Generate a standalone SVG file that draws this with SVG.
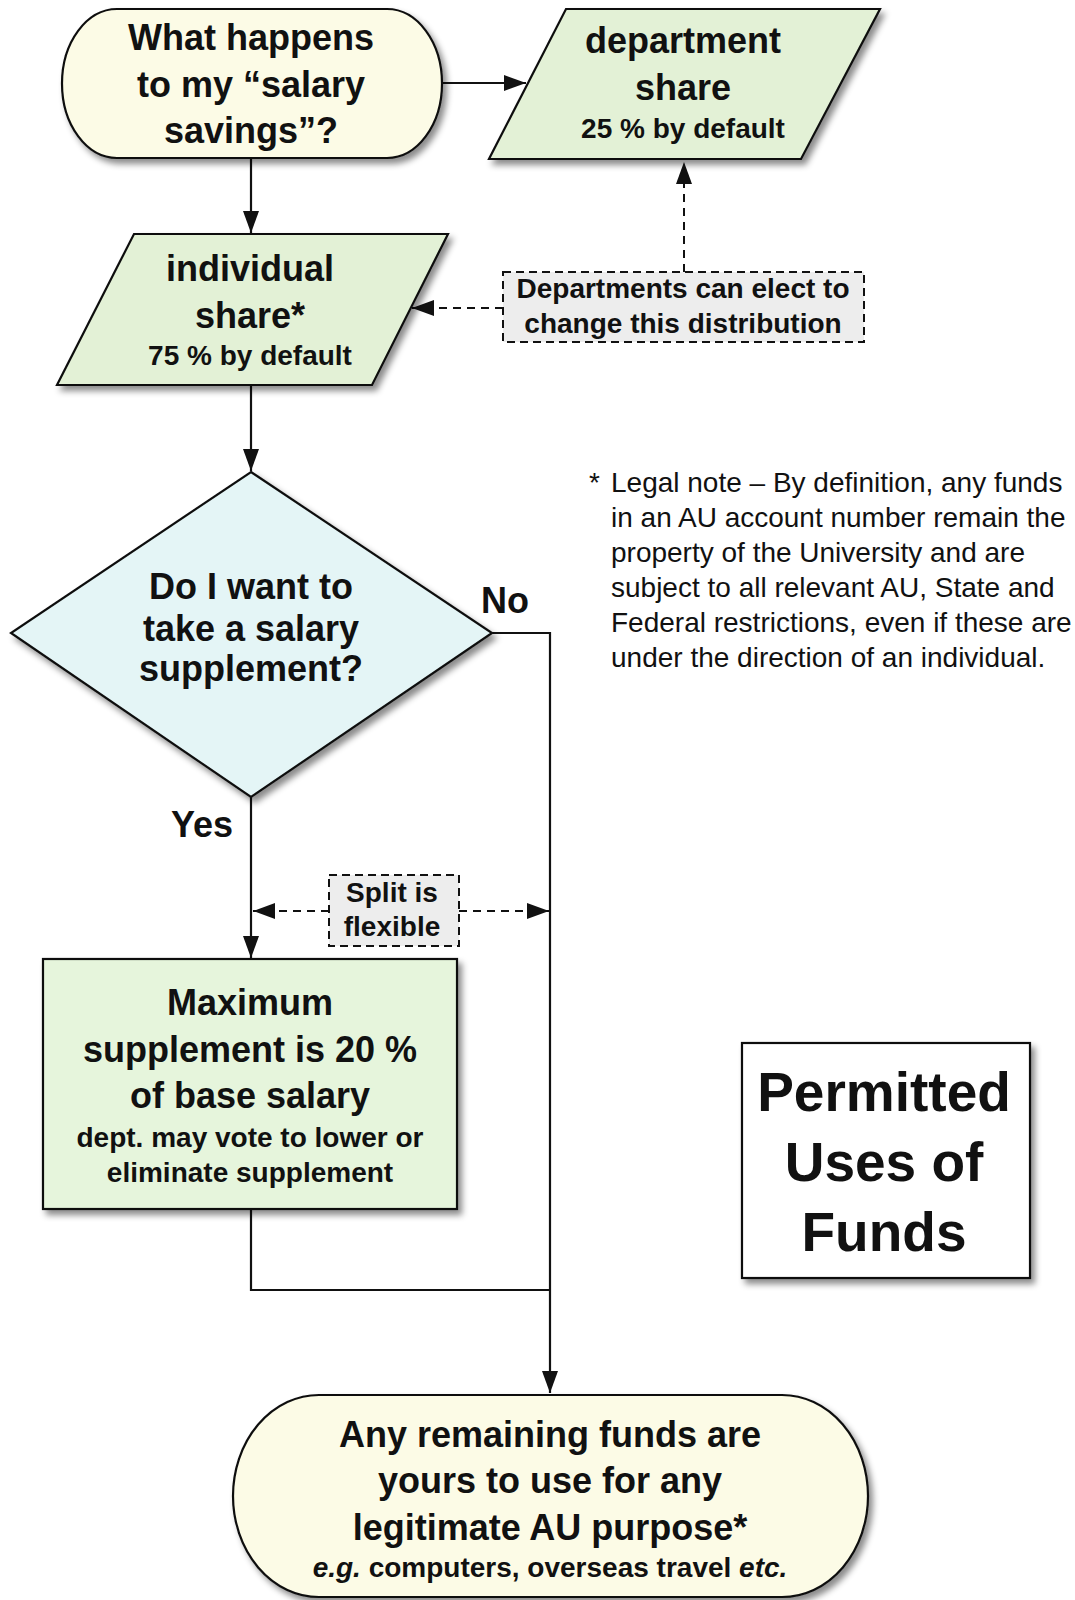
<svg xmlns="http://www.w3.org/2000/svg" width="1075" height="1600" viewBox="0 0 1075 1600">
<style>
  .t { font-family: "Liberation Sans", Arial, Helvetica, sans-serif; font-weight: bold; fill: #111; text-anchor: middle; }
  .big { font-size: 36px; }
  .sm { font-size: 28px; }
  .note { font-family: "Liberation Sans", Arial, Helvetica, sans-serif; font-size: 28px; fill: #111; }
  .shape { stroke: #111; stroke-width: 2.2; }
  .term { fill: #fcfbe6; }
  .para { fill: #e3f1d6; }
  .dec { fill: #e4f5f6; }
  .proc { fill: #e6f5dc; }
  .anno { fill: #ededed; stroke: #111; stroke-width: 2; stroke-dasharray: 8 5; }
  .conn { fill: none; stroke: #111; stroke-width: 2.2; }
  .dash { fill: none; stroke: #111; stroke-width: 2; stroke-dasharray: 8 6; }
</style>
<defs>
  <filter id="sh" x="-10%" y="-10%" width="125%" height="125%">
    <feDropShadow dx="4" dy="5" stdDeviation="3" flood-color="#000" flood-opacity="0.45"/>
  </filter>
  <marker id="ah" markerUnits="userSpaceOnUse" markerWidth="23" markerHeight="16" refX="22" refY="8" orient="auto">
    <path d="M0,0 L22,8 L0,16 z" fill="#111"/>
  </marker>
</defs>
<rect width="1075" height="1600" fill="#ffffff"/>

<g id="connectors">
  <line class="conn" x1="251" y1="159" x2="251" y2="233" marker-end="url(#ah)"/>
  <line class="conn" x1="443" y1="83" x2="526" y2="83" marker-end="url(#ah)"/>
  <line class="conn" x1="251" y1="386" x2="251" y2="471" marker-end="url(#ah)"/>
  <polyline class="conn" points="492,633 550,633 550,1393" marker-end="url(#ah)"/>
  <line class="conn" x1="251" y1="797" x2="251" y2="958" marker-end="url(#ah)"/>
  <polyline class="conn" points="251,1210 251,1290 550,1290"/>
  <line class="dash" x1="684" y1="272" x2="684" y2="162" marker-end="url(#ah)"/>
  <line class="dash" x1="503" y1="308" x2="412" y2="308" marker-end="url(#ah)"/>
  <line class="dash" x1="329" y1="911" x2="253" y2="911" marker-end="url(#ah)"/>
  <line class="dash" x1="459" y1="911" x2="549" y2="911" marker-end="url(#ah)"/>
  <text class="t big" x="505" y="613">No</text>
  <text class="t big" x="202" y="837">Yes</text>
</g>

<g id="start">
  <rect class="shape term" filter="url(#sh)" x="62" y="9" width="380" height="149" rx="55" ry="74.5"/>
  <text class="t big" x="251" y="50">What happens</text>
  <text class="t big" x="251" y="97">to my “salary</text>
  <text class="t big" x="251" y="143">savings”?</text>
</g>

<g id="department-share">
  <polygon class="shape para" filter="url(#sh)" points="566,9 880,9 801,159 489,159"/>
  <text class="t big" x="683" y="53">department</text>
  <text class="t big" x="683" y="100">share</text>
  <text class="t sm" x="683" y="138">25 % by default</text>
</g>

<g id="individual-share">
  <polygon class="shape para" filter="url(#sh)" points="134,234 448,234 372,385 57,385"/>
  <text class="t big" x="250" y="281">individual</text>
  <text class="t big" x="250" y="328">share*</text>
  <text class="t sm" x="250" y="365">75 % by default</text>
</g>

<g id="departments-note">
  <rect class="anno" x="503" y="272" width="361" height="70"/>
  <text class="t sm" x="683" y="298">Departments can elect to</text>
  <text class="t sm" x="683" y="333">change this distribution</text>
</g>

<g id="decision">
  <polygon class="shape dec" filter="url(#sh)" points="251,472 492,633 251,797 11,633"/>
  <text class="t big" x="251" y="599">Do I want to</text>
  <text class="t big" x="251" y="641">take a salary</text>
  <text class="t big" x="251" y="681">supplement?</text>
</g>

<g id="legal-note">
  <text class="note" x="589" y="492" font-size="20">*</text>
  <text class="note" x="611" y="492">Legal note – By definition, any funds</text>
  <text class="note" x="611" y="527">in an AU account number remain the</text>
  <text class="note" x="611" y="562">property of the University and are</text>
  <text class="note" x="611" y="597">subject to all relevant AU, State and</text>
  <text class="note" x="611" y="632">Federal restrictions, even if these are</text>
  <text class="note" x="611" y="667">under the direction of an individual.</text>
</g>

<g id="split-note">
  <rect class="anno" x="329" y="875" width="130" height="71"/>
  <text class="t sm" x="392" y="902">Split is</text>
  <text class="t sm" x="392" y="936">flexible</text>
</g>

<g id="maximum-supplement">
  <rect class="shape proc" filter="url(#sh)" x="43" y="959" width="414" height="250"/>
  <text class="t big" x="250" y="1015">Maximum</text>
  <text class="t big" x="250" y="1062">supplement is 20 %</text>
  <text class="t big" x="250" y="1108">of base salary</text>
  <text class="t sm" x="250" y="1147">dept. may vote to lower or</text>
  <text class="t sm" x="250" y="1182">eliminate supplement</text>
</g>

<g id="permitted-uses">
  <rect class="shape" fill="#ffffff" filter="url(#sh)" x="742" y="1043" width="288" height="235"/>
  <text class="t" font-size="55" x="884" y="1111">Permitted</text>
  <text class="t" font-size="55" x="884" y="1181">Uses of</text>
  <text class="t" font-size="55" x="884" y="1251">Funds</text>
</g>

<g id="end">
  <rect class="shape term" filter="url(#sh)" x="233" y="1395" width="635" height="202" rx="86" ry="101"/>
  <text class="t big" x="550" y="1447">Any remaining funds are</text>
  <text class="t big" x="550" y="1493">yours to use for any</text>
  <text class="t big" x="550" y="1540">legitimate AU purpose*</text>
  <text class="t sm" x="550" y="1577"><tspan font-style="italic">e.g.</tspan> computers, overseas travel <tspan font-style="italic">etc.</tspan></text>
</g>
</svg>
